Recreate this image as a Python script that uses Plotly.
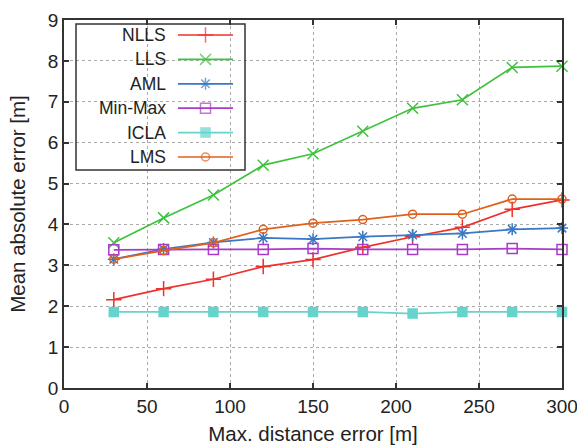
import plotly.graph_objects as go

# Maximum distance error [m]
max_dist_error = [30, 60, 90, 120, 150, 180, 210, 240, 270, 300]

# Mean absolute error [m] of each localisation method
nlls = [2.16, 2.43, 2.66, 2.97, 3.14, 3.44, 3.70, 3.93, 4.37, 4.60]
lls = [3.55, 4.16, 4.72, 5.45, 5.73, 6.28, 6.84, 7.05, 7.84, 7.87]
aml = [3.15, 3.40, 3.56, 3.67, 3.64, 3.70, 3.74, 3.78, 3.88, 3.91]
min_max = [3.38, 3.39, 3.39, 3.39, 3.41, 3.39, 3.39, 3.39, 3.41, 3.39]
icla = [1.86, 1.86, 1.86, 1.86, 1.86, 1.86, 1.82, 1.86, 1.86, 1.86]
lms = [3.15, 3.36, 3.55, 3.88, 4.03, 4.12, 4.25, 4.25, 4.62, 4.62]

x_ticks = [0, 50, 100, 150, 200, 250, 300]
y_ticks = [0, 1, 2, 3, 4, 5, 6, 7, 8, 9]

series = [
    ("NLLS", nlls, "#f0302c", "cross-thin-open", 11),
    ("LLS", lls, "#3ec23e", "x-thin-open", 11),
    ("AML", aml, "#3a78c4", "asterisk-open", 10),
    ("Min-Max", min_max, "#a83cc8", "square-open", 10),
    ("ICLA", icla, "#66d4cc", "square", 9),
    ("LMS", lms, "#e0601c", "circle-open", 8),
]

FONT = "Liberation Sans, Arial, sans-serif"
fig = go.Figure()

for name, vals, color, sym, size in series:
    fig.add_trace(go.Scatter(
        x=max_dist_error, y=vals, mode="lines+markers", name=name,
        line=dict(color=color, width=1.7),
        marker=dict(symbol=sym, size=size, color=color,
                    line=dict(color=color, width=1.5)),
        showlegend=False, cliponaxis=False,
    ))

# Legend drawn on an overlay axis measured in page pixels
leg_top = 35
leg_step = 24.4
for i, (name, vals, color, sym, size) in enumerate(series):
    yy = leg_top + i * leg_step
    fig.add_trace(go.Scatter(
        x=[178, 205.5, 233], y=[yy, yy, yy], mode="lines+markers",
        xaxis="x2", yaxis="y2", hoverinfo="skip", showlegend=False,
        line=dict(color=color, width=1.7),
        marker=dict(symbol=sym, size=[0, size, 0], color=color,
                    line=dict(color=color, width=1.5)),
    ))
    fig.add_annotation(x=168, y=yy, xref="x2", yref="y2", text=name,
                       showarrow=False, xanchor="right", yanchor="middle",
                       font=dict(family=FONT, size=17.5, color="#222"))

fig.add_shape(type="rect", xref="x2", yref="y2", x0=76, x1=245, y0=24, y1=170,
              line=dict(color="#333", width=1.5), fillcolor="rgba(0,0,0,0)")

axis_common = dict(
    showline=True, linecolor="#333", linewidth=1.8, mirror="ticks",
    ticks="inside", ticklen=5, tickcolor="#333", tickwidth=1.5,
    showgrid=True, gridcolor="#aaaaaa", griddash="dot", gridwidth=1.3,
    zeroline=False, automargin=False, ticklabeloverflow="allow",
    tickfont=dict(family=FONT, size=19, color="#222"),
)

fig.update_layout(
    width=577, height=448,
    margin=dict(l=64, r=15, t=20, b=60),
    paper_bgcolor="white", plot_bgcolor="white",
    xaxis=dict(range=[0, 300], tickvals=x_ticks,
               title=dict(text="Max. distance error [m]", standoff=11,
                          font=dict(family=FONT, size=20.5, color="#222")),
               **axis_common),
    yaxis=dict(range=[0, 9], tickvals=y_ticks,
               title=dict(text="Mean absolute error [m]", standoff=17,
                          font=dict(family=FONT, size=20.5, color="#222")),
               **axis_common),
    xaxis2=dict(range=[64, 562], overlaying="x", visible=False, fixedrange=True),
    yaxis2=dict(range=[388, 20], overlaying="y", visible=False, fixedrange=True),
)

fig.write_html("out.html")
